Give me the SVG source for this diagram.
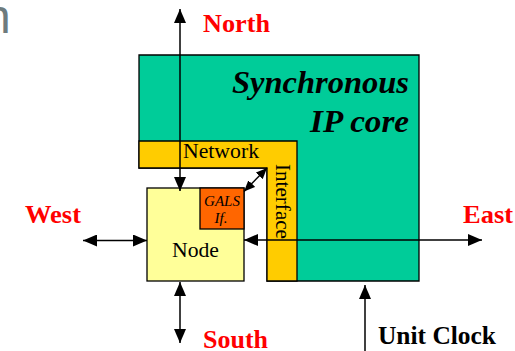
<svg xmlns="http://www.w3.org/2000/svg" width="515" height="351" viewBox="0 0 515 351">
  <style>
    .box { stroke: #000; stroke-width: 1.3; }
    .dir { font-family: "Liberation Serif", "Times New Roman", serif; font-weight: bold; font-size: 25px; fill: #ff0000; }
    .clk { fill: #000; }
    .lbl { font-family: "Liberation Serif", "Times New Roman", serif; font-size: 21px; fill: #000; }
    .core { font-family: "Liberation Serif", "Times New Roman", serif; font-weight: bold; font-style: italic; font-size: 32px; fill: #000; }
    .gals { font-family: "Liberation Serif", "Times New Roman", serif; font-style: italic; font-size: 15px; fill: #000; text-anchor: middle; }
    .conn { stroke: #000; stroke-width: 1.5; fill: none; }
  </style>
  <defs>
    <marker id="ah" viewBox="0 0 14 12" refX="14" refY="6" markerWidth="14" markerHeight="12" markerUnits="userSpaceOnUse" orient="auto-start-reverse">
      <path d="M0,0 L14,6 L0,12 Z" fill="#000"/>
    </marker>
    <marker id="ahs" viewBox="0 0 14 12" refX="14" refY="6" markerWidth="11" markerHeight="10" markerUnits="userSpaceOnUse" orient="auto-start-reverse">
      <path d="M0,0 L14,6 L0,12 Z" fill="#000"/>
    </marker>
  </defs>

  <rect width="515" height="351" fill="#fff"/>

  <!-- partial title letter at the top-left edge -->
  <text x="-16" y="33" font-family="Liberation Sans, Arial, sans-serif" font-size="48" fill="#6e7b7d">n</text>

  <!-- synchronous IP core -->
  <g id="ip-core">
    <path class="box" d="M139,55 H419 V281 H267 V168 H139 Z" fill="#00cc99"/>
    <text class="core" x="232" y="93" textLength="177" lengthAdjust="spacingAndGlyphs">Synchronous</text>
    <text class="core" x="310" y="132" textLength="99" lengthAdjust="spacingAndGlyphs">IP core</text>
  </g>

  <!-- network interface (L-shaped) -->
  <g id="network-interface">
    <path class="box" d="M139,141 H297 V281 H267 V168 H139 Z" fill="#ffcc00"/>
    <text class="lbl" x="183" y="158" textLength="76" lengthAdjust="spacingAndGlyphs">Network</text>
    <text class="lbl" transform="translate(275.5,164) rotate(90)" x="0" y="0" textLength="75" lengthAdjust="spacingAndGlyphs">Interface</text>
  </g>

  <!-- router node -->
  <g id="node">
    <rect class="box" x="147" y="188" width="97" height="93" fill="#ffff99"/>
    <text class="lbl" x="172" y="257" textLength="47" lengthAdjust="spacingAndGlyphs">Node</text>
  </g>

  <!-- GALS interface -->
  <g id="gals-if">
    <rect class="box" x="200" y="188" width="44" height="41" fill="#ff6600"/>
    <text class="gals" x="222" y="205.5">GALS</text>
    <text class="gals" x="221" y="223">If.</text>
  </g>

  <!-- connectors -->
  <g id="connectors">
    <line class="conn" x1="180" y1="9" x2="180" y2="191" marker-start="url(#ah)" marker-end="url(#ah)"/>
    <line class="conn" x1="83" y1="240.5" x2="147" y2="240.5" marker-start="url(#ah)" marker-end="url(#ah)"/>
    <line class="conn" x1="180" y1="282" x2="180" y2="343" marker-start="url(#ah)" marker-end="url(#ah)"/>
    <line class="conn" x1="244" y1="240" x2="482" y2="240" marker-start="url(#ah)" marker-end="url(#ah)"/>
    <line class="conn" x1="365" y1="351" x2="365" y2="285" marker-end="url(#ah)"/>
    <line class="conn" x1="244" y1="191.5" x2="267" y2="168" marker-start="url(#ahs)" marker-end="url(#ahs)"/>
  </g>

  <!-- port labels -->
  <g id="labels">
    <text class="dir" x="203" y="31.5" textLength="67" lengthAdjust="spacingAndGlyphs">North</text>
    <text class="dir" x="25" y="222.5" textLength="56" lengthAdjust="spacingAndGlyphs">West</text>
    <text class="dir" x="463" y="222.5" textLength="50" lengthAdjust="spacingAndGlyphs">East</text>
    <text class="dir" x="203" y="348.3" textLength="65" lengthAdjust="spacingAndGlyphs">South</text>
    <text class="dir clk" x="378" y="343.5" textLength="118" lengthAdjust="spacingAndGlyphs">Unit Clock</text>
  </g>
</svg>
